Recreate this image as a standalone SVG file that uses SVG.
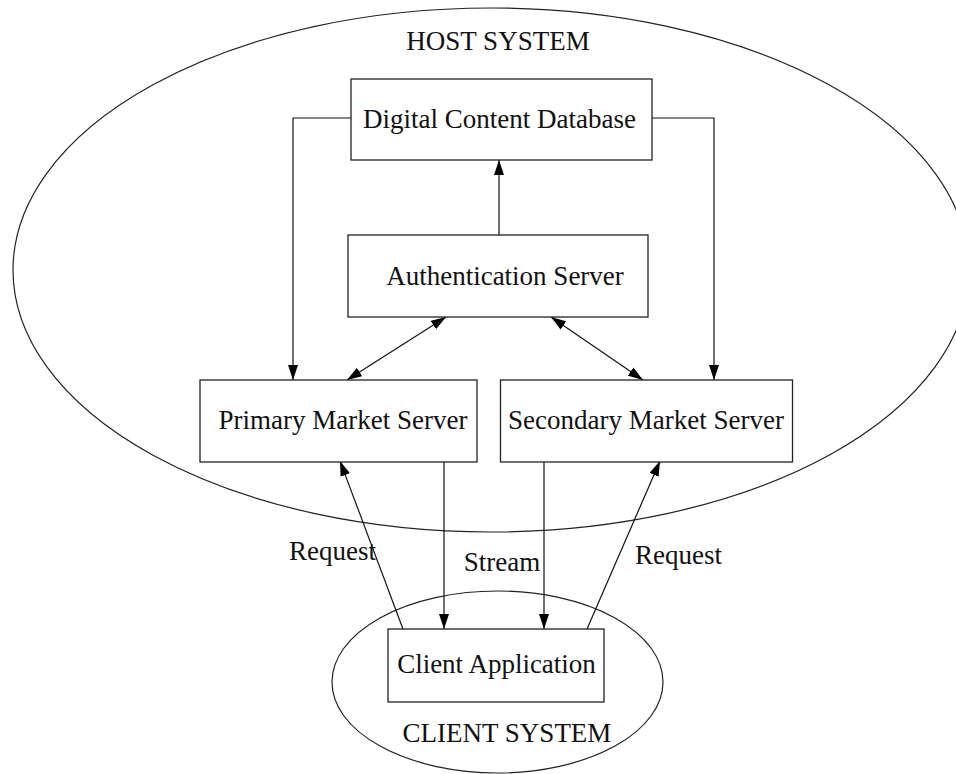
<svg xmlns="http://www.w3.org/2000/svg" width="956" height="774" viewBox="0 0 956 774">
<defs>
<marker id="ah" markerUnits="userSpaceOnUse" markerWidth="15" markerHeight="10" refX="15" refY="5" orient="auto-start-reverse">
<path d="M0,0 L15,5 L0,10 z" fill="#000"/>
</marker>
<style>
text{font-family:"Liberation Serif","Times New Roman",serif;font-size:27px;fill:#111;text-anchor:middle}
.box{fill:#fff;stroke:#222;stroke-width:1.3}
.ell{fill:none;stroke:#222;stroke-width:1.2}
.con{fill:none;stroke:#111;stroke-width:1.2}
</style>
</defs>
<rect width="956" height="774" fill="#fff"/>
<g id="host-system">
<ellipse class="ell" cx="491" cy="270" rx="478" ry="262"/>
<text x="498" y="50">HOST SYSTEM</text>
</g>
<g id="client-system">
<ellipse class="ell" cx="497.5" cy="682" rx="165.5" ry="91"/>
<text x="507" y="742">CLIENT SYSTEM</text>
</g>
<g id="connectors">
<line class="con" x1="499" y1="235" x2="499" y2="160" marker-end="url(#ah)"/>
<polyline class="con" points="351,118 293,118 293,380" marker-end="url(#ah)"/>
<polyline class="con" points="652,118 714,118 714,380" marker-end="url(#ah)"/>
<line class="con" x1="446" y1="317" x2="347" y2="380" marker-start="url(#ah)" marker-end="url(#ah)"/>
<line class="con" x1="551" y1="317" x2="643" y2="380" marker-start="url(#ah)" marker-end="url(#ah)"/>
<line class="con" x1="403" y1="629" x2="340" y2="461" marker-end="url(#ah)"/>
<line class="con" x1="444" y1="461" x2="444" y2="629" marker-end="url(#ah)"/>
<line class="con" x1="544" y1="461" x2="544" y2="629" marker-end="url(#ah)"/>
<line class="con" x1="587" y1="629" x2="660" y2="461" marker-end="url(#ah)"/>
<text x="332.5" y="560">Request</text>
<text x="502" y="571">Stream</text>
<text x="678.5" y="564">Request</text>
</g>
<g id="digital-content-database">
<rect class="box" x="351" y="79" width="301" height="81"/>
<text x="499.5" y="128">Digital Content Database</text>
</g>
<g id="authentication-server">
<rect class="box" x="348" y="235" width="300" height="82"/>
<text x="505" y="285">Authentication Server</text>
</g>
<g id="primary-market-server">
<rect class="box" x="200" y="380" width="277" height="82"/>
<text x="343" y="429">Primary Market Server</text>
</g>
<g id="secondary-market-server">
<rect class="box" x="500.5" y="380" width="292" height="82"/>
<text x="646" y="429">Secondary Market Server</text>
</g>
<g id="client-application">
<rect class="box" x="388" y="629" width="216" height="73"/>
<text x="496.5" y="673">Client Application</text>
</g>
</svg>
